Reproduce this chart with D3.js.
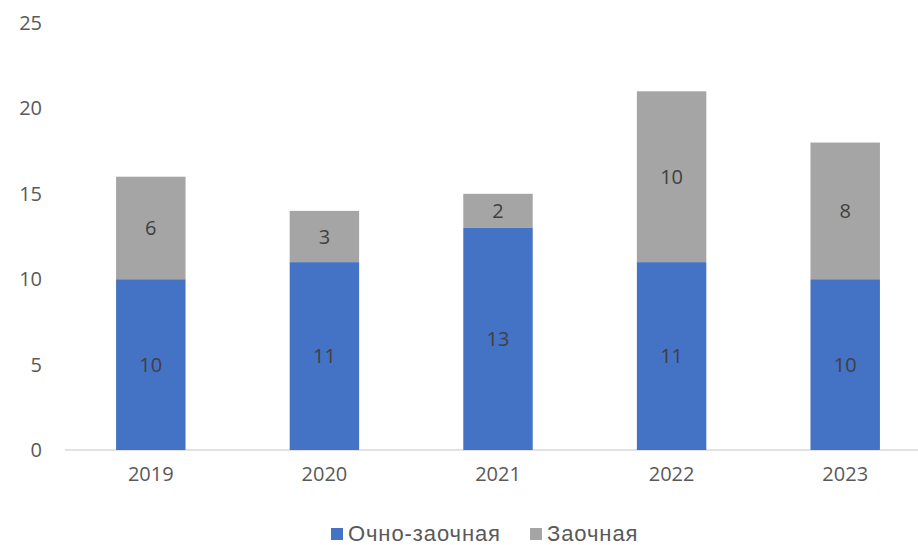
<!DOCTYPE html>
<html>
<head>
<meta charset="utf-8">
<script src="https://cdn.jsdelivr.net/npm/d3@7/dist/d3.min.js"></script>
<style>
  html, body { margin: 0; padding: 0; background: #fff; }
  svg { display: block; }
</style>
</head>
<body>
<svg id="chart" width="918" height="545"></svg>
<script>
// Admissions by year, split by study form
const years = ["2019", "2020", "2021", "2022", "2023"];
const partTime = [10, 11, 13, 11, 10];   // Очно-заочная
const distance = [6, 3, 2, 10, 8];       // Заочная
const yTicks = [0, 5, 10, 15, 20, 25];
const seriesNames = ["Очно-заочная", "Заочная"];
const seriesColors = ["#4472C4", "#A5A5A5"];

const svg = d3.select("#chart");
const axisFont = "'Open Sans', 'Segoe UI', sans-serif";
const legendFont = "'Liberation Sans', Arial, sans-serif";

const x = d3.scaleBand().domain(years).range([64, 932]).paddingInner(0.6).paddingOuter(0.3);
const y = d3.scaleLinear().domain([0, 25]).range([450, 23]);

const rows = years.map((yr, i) => ({ year: yr, a: partTime[i], b: distance[i] }));
const stack = d3.stack().keys(["a", "b"])(rows);

// Baseline
svg.append("line")
  .attr("x1", 65).attr("x2", 918)
  .attr("y1", y(0)).attr("y2", y(0))
  .attr("stroke", "#D9D9D9").attr("stroke-width", 1.3);

// Y axis labels
const yAxis = d3.axisLeft(y).tickValues(yTicks).tickSize(0).tickPadding(0);
const gy = svg.append("g").attr("transform", "translate(42,0)").call(yAxis);
gy.select(".domain").remove();
gy.selectAll("text")
  .attr("fill", "#595959").attr("font-family", axisFont).attr("font-size", 20);

// Stacked bars
stack.forEach((layer, li) => {
  const g = svg.append("g");
  g.selectAll("rect").data(layer).enter().append("rect")
    .attr("x", d => x(d.data.year))
    .attr("width", x.bandwidth())
    .attr("y", d => y(d[1]))
    .attr("height", d => y(d[0]) - y(d[1]))
    .attr("fill", seriesColors[li]);
  g.selectAll("text").data(layer).enter().append("text")
    .attr("x", d => x(d.data.year) + x.bandwidth() / 2)
    .attr("y", d => (y(d[0]) + y(d[1])) / 2)
    .attr("dy", "0.36em")
    .attr("text-anchor", "middle")
    .attr("fill", "#404040")
    .attr("font-family", axisFont).attr("font-size", 20)
    .text(d => d[1] - d[0]);
});

// X axis labels
const xAxis = d3.axisBottom(x).tickSize(0).tickPadding(0);
const gx = svg.append("g").attr("transform", "translate(0,467)").call(xAxis);
gx.select(".domain").remove();
gx.selectAll("text")
  .attr("fill", "#595959").attr("font-family", axisFont).attr("font-size", 20);

// Legend
const legendItems = [
  { name: seriesNames[0], color: seriesColors[0], x: 331 },
  { name: seriesNames[1], color: seriesColors[1], x: 530 }
];
const lg = svg.append("g");
legendItems.forEach(it => {
  lg.append("rect").attr("x", it.x).attr("y", 528).attr("width", 12).attr("height", 12)
    .attr("fill", it.color);
  lg.append("text").attr("x", it.x + 17).attr("y", 541)
    .attr("fill", "#595959").attr("font-family", legendFont).attr("font-size", 22)
    .attr("letter-spacing", "0.9px")
    .text(it.name);
});
</script>
</body>
</html>
